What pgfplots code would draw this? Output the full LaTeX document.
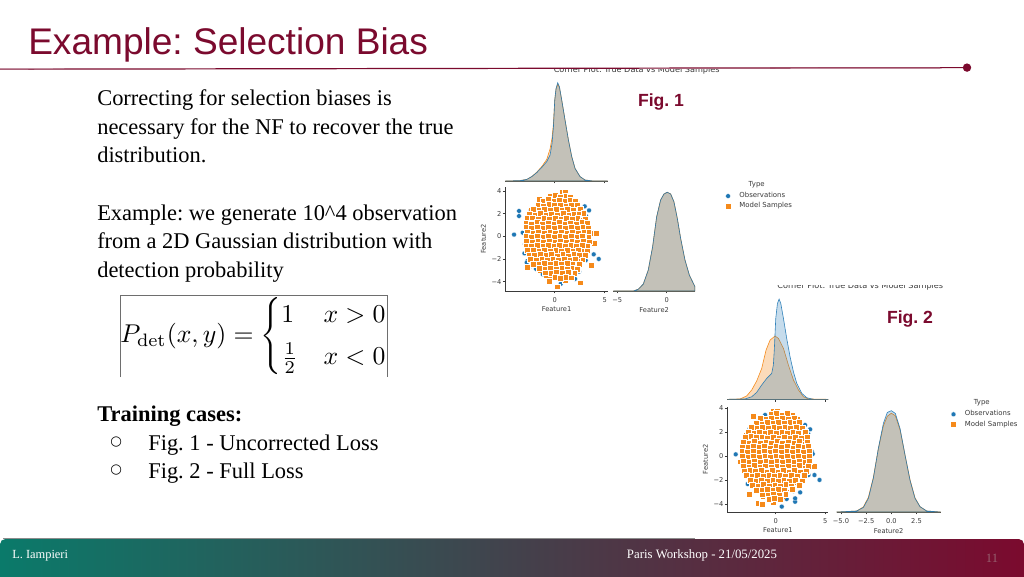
\documentclass[border=0pt]{standalone}
\usepackage[no-math]{fontspec}
\usepackage{amsmath}
\usepackage{graphicx}
\usepackage{pgfplots}
\pgfplotsset{compat=1.18}
\setmainfont{Liberation Serif}
\newfontfamily\arialf{Liberation Sans}
\newfontfamily\dejavu{DejaVu Sans}
\definecolor{wine}{HTML}{7B0A2E}
\definecolor{sbblue}{HTML}{1F77B4}
\definecolor{sborange}{HTML}{F58A1B}
\definecolor{spine}{HTML}{3A3A3A}
\definecolor{footteal}{HTML}{0A7A6A}
\definecolor{footslate}{HTML}{3D4A55}
\definecolor{footnum}{HTML}{965F6E}
\definecolor{footline}{HTML}{8C8C8C}
\definecolor{eqline}{HTML}{6E6E6E}
\frenchspacing
\pgfplotsset{
  mini/.style={scale only axis, clip=false,
    axis line style={spine,line width=0.55pt},
    tick style={spine,line width=0.4pt},
    tick align=outside, major tick length=1.8pt,
    ticklabel style={font=\dejavu\fontsize{5}{5.5}\selectfont,text=spine,inner sep=1pt},
    label style={font=\dejavu\fontsize{5}{5.5}\selectfont,text=spine,inner sep=1pt},
    x tick label style={yshift=-1.6pt},
    xlabel style={yshift=-1.5pt},
  },
  scat/.style={mini,axis lines*=left,ytick={-4,-2,0,2,4},yticklabels={−4,−2,0,2,4},
    xtick={0,5},xticklabels={0,5},ylabel=Feature2,xlabel=Feature1,
    ylabel style={yshift=2pt},
    legend style={draw=none,fill=none,inner sep=0pt,outer sep=0pt,anchor=north west,
      font=\dejavu\fontsize{5.2}{5.8}\selectfont,text=spine,row sep=0.2pt,
      nodes={inner sep=1pt}},
    legend cell align=left,
    legend image code/.code={\path[draw=none] (0pt,0pt) -- (11.5pt,0pt);\draw[##1,mark repeat=2,mark phase=2] plot coordinates {(0pt,0pt)(4pt,0pt)(8pt,0pt)};},
  },
  kde/.style={mini,axis x line*=bottom,axis y line=none,ymin=0},
  obs/.style={only marks,mark=*,mark size=1.8pt,mark options={draw=white,fill=sbblue,line width=0.15pt}},
  mod/.style={only marks,mark=square*,mark size=2.2pt,mark options={draw=white,fill=sborange,line width=0.14pt}},
  fillr/.style={only marks,color=sborange,mark=square*,mark size=3.2pt,mark options={draw=sborange,fill=sborange,line width=0pt},forget plot},
  kb/.style={draw=sbblue,line width=0.45pt,fill=sbblue,fill opacity=0.25,draw opacity=0.9},
  ko/.style={draw=sborange,line width=0.45pt,fill=sborange,fill opacity=0.3},
}
\begin{document}
\begin{tikzpicture}
\useasboundingbox (0,0) rectangle (768pt,-432pt);
\fill[white] (0,0) rectangle (768pt,-432pt);
\begin{scope}[x=0.75pt,y=-0.75pt]
  % footer
  \begin{scope}
  \clip (0,530) rectangle (1024,576);
  \shade[left color=footteal,middle color=footslate,right color=wine,rounded corners=4pt]
     (0,590) rectangle (1024,539);
  \end{scope}
  \draw[footline,line width=0.7pt] (3,538.6) -- (695,538.6);
  \node[anchor=base west,inner sep=0,text=white,font=\fontsize{9.3}{10}\selectfont] at (12,558.5) {L. Iampieri};
  \node[anchor=base,inner sep=0,text=white,font=\fontsize{9.6}{10}\selectfont] at (702,558.5) {Paris Workshop - 21/05/2025};
  \node[anchor=base,inner sep=0,text=footnum,font=\fontsize{9.5}{10}\selectfont] at (992,562) {11};
  % title
  \node[anchor=base west,inner sep=0,text=wine,font=\arialf\fontsize{27.8}{30}\selectfont] at (28,54) {Example: Selection Bias};
  % rule
  \draw[wine,line width=0.9pt] (0,69.2) -- (968,67.6);
  \draw[wine!65,line width=0.9pt] (0,69.2) -- (100,69);
  \draw[wine!75,line width=0.9pt] (770,67.9) -- (940,67.7);
  \fill[wine] (967,67.6) circle (4.2);
  % body
  \begin{scope}[every node/.style={anchor=base west,inner sep=0,text=black,font=\fontsize{16.85}{18}\selectfont}]
    \node at (97,105) {Correcting for selection biases is};
    \node at (97,134) {necessary for the NF to recover the true};
    \node at (97,162) {distribution.};
    \node at (97,220) {Example: we generate 10\^{}4 observation};
    \node at (97,248) {from a 2D Gaussian distribution with};
    \node at (97,277) {detection probability};
    \node at (97,421) {\bfseries Training cases:};
    \node at (148,450) {Fig. 1 - Uncorrected Loss};
    \node at (148,478) {Fig. 2 - Full Loss};
    \node[font=\dejavu\fontsize{10}{12}\selectfont] at (110,445) {○};
    \node[font=\dejavu\fontsize{10}{12}\selectfont] at (110,473) {○};
  \end{scope}
  % equation
  \draw[eqline,line width=0.6pt] (120.3,377) -- (120.3,295.3) -- (387.3,295.3) -- (387.3,377);
  \node[inner sep=0] at (254.5,336.5) {\resizebox{201pt}{!}{$P_{\mathrm{det}}(x,y)=\begin{cases}1 & x>0\\[2pt] \frac12 & x<0\end{cases}$}};
  % figure captions
  \node[text=wine,inner sep=0,font=\arialf\bfseries\fontsize{13.2}{14}\selectfont] at (661,101.5) {Fig. 1};
  \node[text=wine,inner sep=0,font=\arialf\bfseries\fontsize{13.2}{14}\selectfont] at (910,318.5) {Fig. 2};
  % clipped corner plot titles
  \begin{scope}
    \clip (500,69.6) rectangle (760,76);
    \node[anchor=base,inner sep=0,text=spine,font=\dejavu\fontsize{6.1}{6.5}\selectfont] at (636.7,72.4) {Corner Plot: True Data vs Model Samples};
  \end{scope}
  \begin{scope}
    \clip (730,285) rectangle (990,292);
    \node[anchor=base,inner sep=0,text=spine,font=\dejavu\fontsize{6.1}{6.5}\selectfont] at (860.3,288) {Corner Plot: True Data vs Model Samples};
  \end{scope}
  % legend headings
  \node[text=spine,inner sep=0,font=\dejavu\fontsize{5.2}{5.8}\selectfont] at (756.7,184.3) {Type};
  \node[text=spine,inner sep=0,font=\dejavu\fontsize{5.2}{5.8}\selectfont] at (981.7,402.3) {Type};
\end{scope}

% ===== Fig. 1 top KDE =====
\begin{axis}[kde,at={(379pt,-135.75pt)},anchor=south west,width=76.8pt,height=74.9pt,
  xmin=-4.94,xmax=5.3,ymax=0.5,xtick={0,5},xticklabels={,}]
\addplot[ko] coordinates {(-4.93,0)(-3.47,0.002)(-2.8,0.008)(-2.3,0.022)(-1.8,0.044)(-1.3,0.072)(-0.8,0.108)(-0.47,0.16)(-0.27,0.215)(-0.13,0.285)(0,0.405)(0.13,0.46)(0.3,0.485)(0.47,0.468)(0.7,0.405)(1.03,0.305)(1.37,0.205)(1.7,0.122)(2.03,0.063)(2.53,0.022)(3.03,0.005)(3.87,0)(5.3,0)} \closedcycle;
\addplot[kb] coordinates {(-4.93,0)(-3.47,0.002)(-2.8,0.008)(-2.3,0.022)(-1.8,0.042)(-1.3,0.068)(-0.8,0.097)(-0.47,0.13)(-0.27,0.188)(-0.13,0.272)(0,0.405)(0.13,0.463)(0.3,0.492)(0.47,0.472)(0.7,0.405)(1.03,0.305)(1.37,0.205)(1.7,0.122)(2.03,0.063)(2.53,0.022)(3.03,0.005)(3.87,0)(5.3,0)} \closedcycle;
\end{axis}

% ===== Fig. 1 scatter =====
\begin{axis}[scat,at={(379pt,-218.25pt)},anchor=south west,width=76.8pt,height=78.2pt,
  xmin=-4.94,xmax=5.3,ymin=-4.83,ymax=4.38,
  legend style={at={(2.123,0.958)}}]
\addplot[obs] coordinates {(-4.07,0.15)(-3.57,2.24)(-3.57,1.79)(-3.2,0.32)(-2.97,-0.68)(-3.03,-1.5)(-2.73,-2.18)(-2.8,-2.32)(-2.37,-2.62)(-1.87,-2.88)(-1.2,-3.35)(-0.2,-3.32)(-0.03,-3.62)(0.6,-4.2)(2.03,-3.76)(2.43,-3.12)(3.1,-2.12)(3.2,-1.5)(3.9,-1.59)(4.4,-2.0)(3.43,2.29)(3.0,2.65)(3.13,1.79)(-2.37,2.32)(-1.3,3.06)(-0.07,3.65)(2.2,3.06)(3.43,-0.32)};
\addlegendentry{Observations}
\addplot[fillr] coordinates {
(-1.2,2.8)(-0.4,2.8)(0.4,2.8)(1.2,2.8)(1.9,2.8)
(-2.1,2.1)(-1.3,2.1)(-0.5,2.1)(0.3,2.1)(1.1,2.1)(1.9,2.1)(2.4,2.1)
(-2.4,1.4)(-1.6,1.4)(-0.8,1.4)(0,1.4)(0.8,1.4)(1.6,1.4)(2.4,1.4)(2.7,1.4)
(-2.5,0.7)(-1.7,0.7)(-0.9,0.7)(-0.1,0.7)(0.7,0.7)(1.5,0.7)(2.3,0.7)(2.95,0.7)
(-2.5,0)(-1.7,0)(-0.9,0)(-0.1,0)(0.7,0)(1.5,0)(2.3,0)(2.95,0)
(-2.5,-0.7)(-1.7,-0.7)(-0.9,-0.7)(-0.1,-0.7)(0.7,-0.7)(1.5,-0.7)(2.3,-0.7)(2.95,-0.7)
(-2.3,-1.4)(-1.5,-1.4)(-0.7,-1.4)(0.1,-1.4)(0.9,-1.4)(1.7,-1.4)(2.7,-1.4)
(-2.0,-2.1)(-1.2,-2.1)(-0.4,-2.1)(0.4,-2.1)(1.2,-2.1)(2.3,-2.1)
(-1.2,-2.8)(-0.4,-2.8)(0.4,-2.8)(1.2,-2.8)(1.8,-2.8)
(-0.6,-3.25)(0.2,-3.25)(1.0,-3.25)(1.5,-3.25)};
\addplot[mod] coordinates {
(0.7,3.88)(1.03,3.88)(-1.57,3.32)(-0.53,-3.94)(0.27,-4.44)(2.53,-4.09)(1.03,-3.85)(3.6,-2.53)(-2.8,-2.7)(3.93,-0.56)(3.7,0.32)(4.1,0.26)
(-0.5,3.55)(0.05,3.62)(0.52,3.5)(1.1,3.6)(1.52,3.48)
(-1.2,3.15)(-0.68,3.25)(-0.1,3.1)(0.42,3.2)(1.0,3.12)(1.55,3.22)(2.0,3.1)
(-1.7,2.78)(-1.15,2.7)(-0.6,2.82)(-0.05,2.72)(0.5,2.8)(1.08,2.7)(1.6,2.8)(2.25,2.72)
(-2.2,2.38)(-1.6,2.3)(-1.05,2.42)(-0.45,2.3)(0.12,2.4)(0.7,2.32)(1.25,2.42)(1.82,2.3)(2.5,2.4)
(-2.6,2.0)(-2.02,1.9)(-1.5,2.02)(-0.92,1.92)(-0.35,2.0)(0.22,1.9)(0.8,2.02)(1.38,1.92)(1.95,2.0)(2.45,1.95)(2.88,2.02)
(-2.8,1.58)(-2.25,1.65)(-1.7,1.55)(-1.12,1.62)(-0.55,1.52)(0.02,1.6)(0.58,1.52)(1.15,1.62)(1.7,1.54)(2.28,1.6)(3.0,1.56)
(-2.9,1.2)(-2.38,1.12)(-1.8,1.22)(-1.25,1.12)(-0.7,1.2)(-0.12,1.12)(0.42,1.22)(1.0,1.1)(1.55,1.2)(2.12,1.12)(2.68,1.22)(3.2,1.15)
(-2.92,0.78)(-2.35,0.72)(-1.8,0.82)(-1.2,0.72)(-0.65,0.8)(-0.08,0.7)(0.48,0.82)(1.05,0.72)(1.62,0.8)(2.2,0.7)(2.78,0.8)(3.3,0.76)
(-2.8,0.4)(-2.22,0.32)(-1.65,0.42)(-1.1,0.32)(-0.52,0.4)(0.05,0.3)(0.6,0.42)(1.18,0.32)(1.75,0.4)(2.3,0.32)(2.88,0.42)(3.38,0.36)
(-2.9,0.0)(-2.35,-0.08)(-1.78,0.02)(-1.2,-0.08)(-0.65,0.02)(-0.08,-0.08)(0.5,0.02)(1.05,-0.1)(1.62,0.0)(2.2,-0.08)(2.75,0.02)(3.38,-0.06)
(-2.88,-0.42)(-2.28,-0.48)(-1.7,-0.38)(-1.15,-0.48)(-0.58,-0.4)(0.0,-0.5)(0.55,-0.4)(1.12,-0.5)(1.7,-0.4)(2.25,-0.5)(2.82,-0.4)(3.4,-0.46)
(-2.9,-0.82)(-2.35,-0.88)(-1.8,-0.78)(-1.22,-0.88)(-0.68,-0.8)(-0.1,-0.9)(0.45,-0.8)(1.02,-0.9)(1.6,-0.8)(2.15,-0.88)(2.72,-0.78)(3.28,-0.86)
(-2.78,-1.22)(-2.2,-1.18)(-1.62,-1.28)(-1.08,-1.2)(-0.5,-1.3)(0.08,-1.2)(0.62,-1.3)(1.2,-1.2)(1.78,-1.3)(2.32,-1.2)(3.2,-1.26)
(-2.6,-1.62)(-2.05,-1.68)(-1.48,-1.58)(-0.9,-1.68)(-0.35,-1.6)(0.22,-1.7)(0.78,-1.6)(1.35,-1.7)(1.92,-1.6)(2.45,-1.68)(3.0,-1.62)
(-2.5,-2.0)(-1.9,-2.08)(-1.32,-1.98)(-0.78,-2.08)(-0.2,-2.0)(0.35,-2.08)(0.92,-1.98)(1.48,-2.08)(2.05,-2.0)(2.78,-2.06)
(-2.2,-2.42)(-1.62,-2.48)(-1.05,-2.38)(-0.5,-2.48)(0.08,-2.4)(0.65,-2.48)(1.2,-2.38)(1.78,-2.48)(2.45,-2.42)
(-1.6,-2.82)(-1.02,-2.88)(-0.45,-2.78)(0.12,-2.88)(0.7,-2.78)(1.25,-2.88)(1.8,-2.8)(2.2,-2.88)
(-1.0,-3.2)(-0.42,-3.28)(0.15,-3.18)(0.72,-3.28)(1.3,-3.18)(1.98,-3.26)
(0.02,-3.62)(0.5,-3.7)(1.08,-3.58)(1.6,-3.65)};
\addlegendentry{Model Samples}
\end{axis}

% ===== Fig. 1 right KDE =====
\begin{axis}[kde,at={(460pt,-218.25pt)},anchor=south west,width=61.2pt,height=75pt,
  xmin=-5.4,xmax=2.87,ymax=0.4,xtick={-5,0},xticklabels={−5,0},xlabel=Feature2]
\addplot[ko] coordinates {(-5.4,0)(-3.38,0)(-2.87,0.007)(-2.36,0.028)(-1.86,0.084)(-1.42,0.177)(-1.01,0.297)(-0.61,0.364)(-0.27,0.388)(0.07,0.395)(0.41,0.388)(0.74,0.357)(1.08,0.291)(1.42,0.211)(1.86,0.124)(2.3,0.064)(2.87,0.017)} \closedcycle;
\addplot[kb] coordinates {(-5.4,0)(-3.38,0)(-2.87,0.007)(-2.36,0.028)(-1.86,0.084)(-1.42,0.177)(-1.01,0.297)(-0.61,0.364)(-0.27,0.388)(0.07,0.395)(0.41,0.388)(0.74,0.357)(1.08,0.291)(1.42,0.211)(1.86,0.124)(2.3,0.064)(2.87,0.017)} \closedcycle;
\end{axis}

% ===== Fig. 2 top KDE =====
\begin{axis}[kde,at={(545.5pt,-299.5pt)},anchor=south west,width=75.8pt,height=74.9pt,
  xmin=-4.9,xmax=5.33,ymax=0.5,xtick={0,5},xticklabels={,}]
\addplot[ko] coordinates {(-4.9,0)(-3.61,0.002)(-2.94,0.017)(-2.43,0.047)(-1.93,0.092)(-1.42,0.155)(-0.98,0.247)(-0.57,0.297)(-0.07,0.317)(0.27,0.305)(0.78,0.255)(1.28,0.172)(1.79,0.097)(2.3,0.047)(2.8,0.013)(3.31,0.002)(5.33,0)} \closedcycle;
\addplot[kb] coordinates {(-4.9,0)(-3.11,0.002)(-2.43,0.013)(-1.93,0.035)(-1.42,0.072)(-0.91,0.105)(-0.41,0.13)(-0.24,0.172)(-0.14,0.255)(0,0.405)(0.17,0.48)(0.34,0.502)(0.51,0.48)(0.78,0.405)(1.11,0.305)(1.45,0.213)(1.79,0.138)(2.13,0.08)(2.64,0.03)(3.14,0.008)(3.82,0)(5.33,0)} \closedcycle;
\end{axis}

% ===== Fig. 2 scatter =====
\begin{axis}[scat,at={(545.5pt,-384pt)},anchor=south west,width=75.8pt,height=79pt,
  xmin=-4.9,xmax=5.33,ymin=-4.68,ymax=4.12,
  legend style={at={(2.185,0.975)}}]
\addplot[obs] coordinates {(-4.05,0.14)(-2.67,2.23)(-2.6,1.75)(-2.67,-2.14)(-2.84,-2.34)(2.3,2.95)(2.97,2.59)(3.48,2.23)(3.31,1.81)(3.65,0.36)(3.75,0.17)(3.31,-1.59)(3.92,-1.59)(4.43,-2.0)(3.14,-1.45)(1.79,-2.92)(2.47,-3.04)(1.96,-3.82)(1.96,-3.54)(0.61,-4.23)(1.11,-3.59)(-1.42,2.92)(1.45,-2.7)(-1.08,3.43)};
\addlegendentry{Observations}
\addplot[fillr] coordinates {
(-1.6,2.9)(-0.8,2.9)(0,2.9)(0.8,2.9)(1.6,2.9)(2.0,2.9)
(-2.3,2.2)(-1.5,2.2)(-0.7,2.2)(0.1,2.2)(0.9,2.2)(1.7,2.2)(2.5,2.2)
(-2.7,1.5)(-1.9,1.5)(-1.1,1.5)(-0.3,1.5)(0.5,1.5)(1.3,1.5)(2.1,1.5)(2.8,1.5)
(-3.0,0.8)(-2.2,0.8)(-1.4,0.8)(-0.6,0.8)(0.2,0.8)(1.0,0.8)(1.8,0.8)(2.6,0.8)(2.95,0.8)
(-3.0,0.1)(-2.2,0.1)(-1.4,0.1)(-0.6,0.1)(0.2,0.1)(1.0,0.1)(1.8,0.1)(2.6,0.1)(2.95,0.1)
(-3.0,-0.6)(-2.2,-0.6)(-1.4,-0.6)(-0.6,-0.6)(0.2,-0.6)(1.0,-0.6)(1.8,-0.6)(2.6,-0.6)(2.95,-0.6)
(-2.8,-1.3)(-2.0,-1.3)(-1.2,-1.3)(-0.4,-1.3)(0.4,-1.3)(1.2,-1.3)(2.0,-1.3)(2.7,-1.3)
(-2.2,-2.0)(-1.4,-2.0)(-0.6,-2.0)(0.2,-2.0)(1.0,-2.0)(1.8,-2.0)(2.3,-2.0)
(-1.6,-2.7)(-0.8,-2.7)(0,-2.7)(0.8,-2.7)(1.3,-2.7)
(-1.0,-3.2)(-0.2,-3.2)(0.6,-3.2)};
\addplot[mod] coordinates {
(-0.3,3.79)(0.1,3.76)(-1.76,-3.9)(-1.42,-4.0)(-2.67,-3.18)(-2.26,3.34)(3.92,-0.84)(-0.24,-3.82)(-3.6,-0.47)
(-0.5,3.5)(0.05,3.56)(0.62,3.46)(1.15,3.55)(1.7,3.45)
(-1.6,3.18)(-1.02,3.12)(-0.45,3.2)(0.1,3.1)(0.68,3.2)(1.25,3.12)(1.88,3.2)
(-2.0,2.78)(-1.42,2.7)(-0.85,2.8)(-0.3,2.72)(0.28,2.82)(0.82,2.72)(1.4,2.8)(1.95,2.72)(2.4,2.8)
(-2.5,2.4)(-1.92,2.32)(-1.35,2.42)(-0.8,2.32)(-0.22,2.4)(0.35,2.3)(0.92,2.42)(1.48,2.32)(2.05,2.4)(2.68,2.34)
(-2.8,2.0)(-2.22,1.92)(-1.68,2.02)(-1.1,1.92)(-0.55,2.0)(0.02,1.9)(0.6,2.02)(1.15,1.92)(1.72,2.0)(2.3,1.92)(3.0,2.0)
(-3.1,1.58)(-2.55,1.65)(-1.98,1.55)(-1.4,1.62)(-0.85,1.52)(-0.28,1.6)(0.3,1.52)(0.85,1.62)(1.42,1.54)(2.0,1.6)(2.55,1.52)(3.18,1.58)
(-3.3,1.2)(-2.72,1.12)(-2.15,1.22)(-1.6,1.12)(-1.02,1.2)(-0.45,1.12)(0.1,1.22)(0.68,1.1)(1.25,1.2)(1.8,1.12)(2.38,1.22)(3.2,1.15)
(-3.4,0.78)(-2.85,0.72)(-2.28,0.82)(-1.7,0.72)(-1.15,0.8)(-0.58,0.7)(0.0,0.82)(0.55,0.72)(1.12,0.8)(1.7,0.7)(2.25,0.8)(2.82,0.72)(3.3,0.8)
(-3.42,0.4)(-2.88,0.32)(-2.3,0.42)(-1.72,0.32)(-1.18,0.4)(-0.6,0.3)(-0.05,0.42)(0.52,0.32)(1.1,0.4)(1.65,0.3)(2.22,0.42)(2.8,0.32)(3.38,0.4)
(-3.4,0.0)(-2.82,-0.08)(-2.25,0.02)(-1.7,-0.08)(-1.12,0.02)(-0.55,-0.08)(0.0,0.02)(0.58,-0.1)(1.15,0.0)(1.7,-0.08)(2.28,0.02)(2.85,-0.08)(3.38,0.0)
(-3.3,-0.42)(-2.72,-0.48)(-2.18,-0.38)(-1.6,-0.48)(-1.02,-0.4)(-0.48,-0.5)(0.1,-0.4)(0.65,-0.5)(1.22,-0.4)(1.8,-0.5)(2.35,-0.4)(2.92,-0.48)(3.4,-0.42)
(-3.3,-0.82)(-2.75,-0.88)(-2.18,-0.78)(-1.6,-0.88)(-1.05,-0.8)(-0.48,-0.9)(0.1,-0.8)(0.65,-0.9)(1.22,-0.8)(1.8,-0.88)(2.35,-0.78)(3.3,-0.86)
(-3.2,-1.22)(-2.62,-1.18)(-2.05,-1.28)(-1.5,-1.2)(-0.92,-1.3)(-0.35,-1.2)(0.2,-1.3)(0.78,-1.2)(1.35,-1.3)(1.9,-1.2)(2.48,-1.3)(3.08,-1.24)
(-3.0,-1.62)(-2.42,-1.68)(-1.85,-1.58)(-1.28,-1.68)(-0.72,-1.6)(-0.15,-1.7)(0.42,-1.6)(0.98,-1.7)(1.55,-1.6)(2.12,-1.7)(2.88,-1.62)
(-2.6,-2.0)(-2.02,-2.08)(-1.45,-1.98)(-0.9,-2.08)(-0.32,-2.0)(0.25,-2.08)(0.82,-1.98)(1.38,-2.08)(1.95,-2.0)(2.68,-2.06)
(-2.4,-2.42)(-1.82,-2.48)(-1.25,-2.38)(-0.7,-2.48)(-0.12,-2.4)(0.45,-2.48)(1.0,-2.38)(1.58,-2.48)(2.4,-2.42)
(-2.0,-2.82)(-1.42,-2.88)(-0.85,-2.78)(-0.28,-2.88)(0.28,-2.78)(0.85,-2.88)(1.68,-2.8)
(-1.4,-3.22)(-0.8,-3.28)(-0.25,-3.18)(0.32,-3.28)(1.0,-3.2)
(-0.7,-3.6)(-0.15,-3.55)(0.4,-3.62)};
\addlegendentry{Model Samples}
\end{axis}

% ===== Fig. 2 right KDE =====
\begin{axis}[kde,at={(627.5pt,-384pt)},anchor=south west,width=78pt,height=76pt,
  xmin=-5.43,xmax=4.9,ymax=0.4,xtick={-5,-2.5,0,2.5},xticklabels={−5.0,−2.5,0.0,2.5},xlabel=Feature2]
\addplot[ko] coordinates {(-5.43,0)(-3.44,0.004)(-2.78,0.02)(-2.28,0.058)(-1.79,0.136)(-1.29,0.25)(-0.79,0.34)(-0.4,0.378)(0,0.39)(0.4,0.38)(0.86,0.325)(1.36,0.225)(1.85,0.128)(2.35,0.056)(2.85,0.021)(3.51,0.004)(4.9,0)} \closedcycle;
\addplot[kb] coordinates {(-5.43,0)(-3.44,0.004)(-2.78,0.018)(-2.28,0.054)(-1.79,0.133)(-1.29,0.251)(-0.79,0.35)(-0.4,0.393)(0,0.4)(0.4,0.389)(0.86,0.33)(1.36,0.225)(1.85,0.126)(2.35,0.054)(2.85,0.021)(3.51,0.004)(4.9,0)} \closedcycle;
\end{axis}
\end{tikzpicture}
\end{document}
